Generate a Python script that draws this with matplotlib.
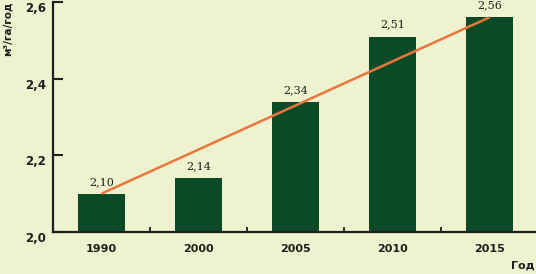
import matplotlib
matplotlib.use("Agg")
import matplotlib.pyplot as plt
from matplotlib.transforms import ScaledTranslation

# --- data ------------------------------------------------------------------
years = ["1990", "2000", "2005", "2010", "2015"]
values = [2.10, 2.14, 2.34, 2.51, 2.56]
labels = ["2,10", "2,14", "2,34", "2,51", "2,56"]
yticks = [2.0, 2.2, 2.4, 2.6]
ytick_labels = ["2,0", "2,2", "2,4", "2,6"]

BG = "#eff2cf"
BAR = "#0b4a26"
LINE = "#e9773d"
INK = "#1e1e1e"

fig = plt.figure(figsize=(5.36, 2.74), dpi=100)
fig.patch.set_facecolor(BG)
ax = fig.add_axes([53 / 536, 42 / 274, 483 / 536, 230 / 274])
ax.set_facecolor(BG)

x = list(range(len(years)))
ax.bar(x, [v - 2.0 for v in values], bottom=2.0, width=0.48, color=BAR, zorder=2)

# trend line from first to last value
ax.plot([x[0], x[-1]], [values[0], values[-1]], color=LINE, lw=1.8, zorder=3,
        solid_capstyle="butt")

for xi, v, s in zip(x, values, labels):
    ax.annotate(s, (xi, v), xytext=(0, 5), textcoords="offset points",
                ha="center", va="bottom", fontsize=8,
                family="DejaVu Serif", color=INK)

ax.set_xlim(-0.5, 4.48)
ax.set_ylim(2.0, 2.6)

ax.set_yticks(yticks)
ax.set_yticklabels(ytick_labels)
ax.tick_params(axis="y", direction="in", length=7, width=1.5, color=INK,
               pad=5, labelsize=8.5)

# category labels without ticks, small ticks at category boundaries
ax.set_xticks(x)
ax.set_xticklabels(years)
ax.tick_params(axis="x", which="major", length=0, pad=9, labelsize=8)
ax.set_xticks([0.5, 1.5, 2.5, 3.5], minor=True)
ax.tick_params(axis="x", which="minor", direction="in", length=3.5,
               width=1.3, color=INK)

for lab in ax.get_xticklabels() + ax.get_yticklabels():
    lab.set_fontweight("bold")
    lab.set_color(INK)

# y tick labels sit a little below their ticks in the reference
shift = ScaledTranslation(0, -5 / 100, fig.dpi_scale_trans)
for lab in ax.get_yticklabels():
    lab.set_transform(lab.get_transform() + shift)

for side in ("top", "right"):
    ax.spines[side].set_visible(False)
for side in ("left", "bottom"):
    ax.spines[side].set_linewidth(1.6)
    ax.spines[side].set_color(INK)

fig.text(8 / 536, 1 - 1 / 274, "м³/га/год", rotation=90, ha="center",
         va="top", fontsize=7.5, fontweight="bold", color=INK)
fig.text(535 / 536, 1 - 266 / 274, "Год", ha="right", va="center",
         fontsize=8, fontweight="bold", color=INK)

fig.savefig("out.png", dpi=100, facecolor=BG)
